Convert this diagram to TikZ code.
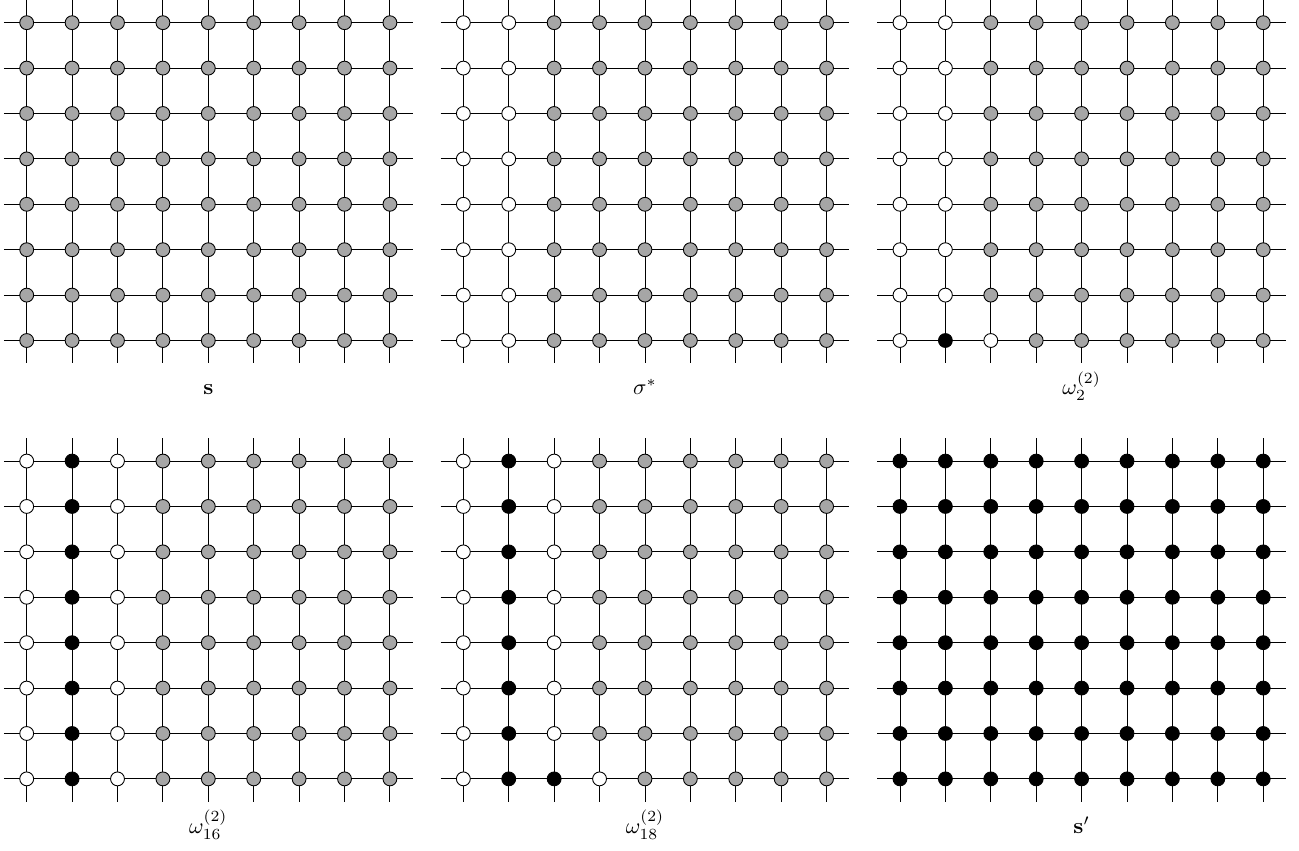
\documentclass[tikz,border=0pt]{standalone}
\usepackage{amsmath}
\begin{document}
\begin{tikzpicture}[x=0.72cm, y=0.72cm,
	gitter/.style={line width=0.4pt},
	kreis/.style={circle, draw, line width=0.4pt, inner sep=0pt, minimum size=0.22cm},
	grau/.style={kreis, fill=black!35},
	weiss/.style={kreis, fill=white},
	schwarz/.style={kreis, fill=black}]
	\useasboundingbox (0,0) rectangle (28.61,18.74);

	%Panels: Nummer / Zeilen 0-6 / Zeile 7 / Titel
	\foreach \p/\oben/\unten/\titel in {
		0/{grau,grau,grau,grau,grau,grau,grau,grau,grau}/{grau,grau,grau,grau,grau,grau,grau,grau,grau}/{$\mathbf{s}$},
		1/{weiss,weiss,grau,grau,grau,grau,grau,grau,grau}/{weiss,weiss,grau,grau,grau,grau,grau,grau,grau}/{$\sigma^*$},
		2/{weiss,weiss,grau,grau,grau,grau,grau,grau,grau}/{weiss,schwarz,weiss,grau,grau,grau,grau,grau,grau}/{$\omega_2^{(2)}$},
		3/{weiss,schwarz,weiss,grau,grau,grau,grau,grau,grau}/{weiss,schwarz,weiss,grau,grau,grau,grau,grau,grau}/{$\omega_{16}^{(2)}$},
		4/{weiss,schwarz,weiss,grau,grau,grau,grau,grau,grau}/{weiss,schwarz,schwarz,weiss,grau,grau,grau,grau,grau}/{$\omega_{18}^{(2)}$},
		5/{schwarz,schwarz,schwarz,schwarz,schwarz,schwarz,schwarz,schwarz,schwarz}/{schwarz,schwarz,schwarz,schwarz,schwarz,schwarz,schwarz,schwarz,schwarz}/{$\mathbf{s}'$}
	} {
		\pgfmathsetmacro\xa{0.588+9.617*mod(\p,3)}
		\pgfmathsetmacro\ya{18.24-9.655*int(\p/3)}

		%senkrechte Striche
		\foreach \i in {0,...,8}
			\draw[gitter] (\xa+\i,\ya+0.5) -- (\xa+\i,\ya-7.5);
		%waagrechte Striche
		\foreach \j in {0,...,7}
			\draw[gitter] (\xa-0.5,\ya-\j) -- (\xa+8.5,\ya-\j);

		%Knoten
		\foreach \j in {0,...,6}
			\foreach \st [count=\i from 0] in \oben
				\node[\st] (p\p-\i-\j) at (\xa+\i,\ya-\j) {};
		\foreach \st [count=\i from 0] in \unten
			\node[\st] (p\p-\i-7) at (\xa+\i,\ya-7) {};

		%Titel
		\node[anchor=base] (t\p) at (\xa+4,\ya-8.2) {\titel};
	}
\end{tikzpicture}
\end{document}
